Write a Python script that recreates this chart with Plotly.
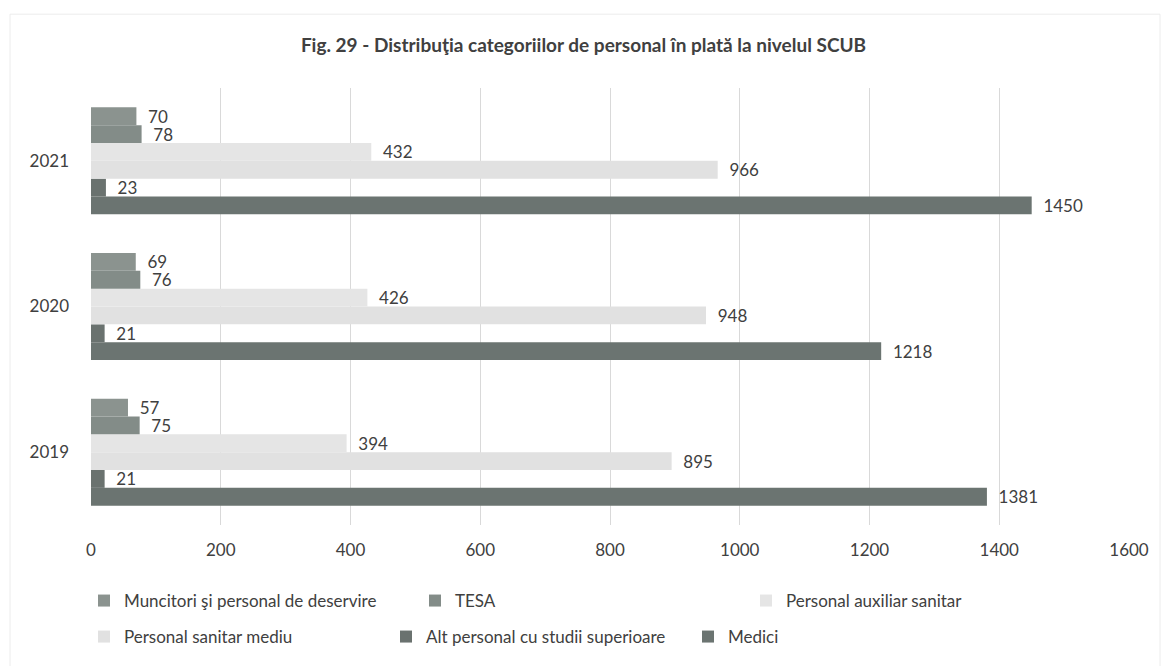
import plotly.graph_objects as go

# Years (categories on the vertical axis, bottom to top)
years = ["2019", "2020", "2021"]

# Staff counts per category, values listed for 2019, 2020, 2021
muncitori = [57, 69, 70]
tesa = [75, 76, 78]
auxiliar = [394, 426, 432]
sanitar_mediu = [895, 948, 966]
alt_personal = [21, 21, 23]
medici = [1381, 1218, 1450]

series_names = [
    "Muncitori şi personal de deservire",
    "TESA",
    "Personal auxiliar sanitar",
    "Personal sanitar mediu",
    "Alt personal cu studii superioare",
    "Medici",
]
series_values = [muncitori, tesa, auxiliar, sanitar_mediu, alt_personal, medici]
series_colors = ["#8b938f", "#838c88", "#e5e5e5", "#e1e1e1", "#6a726f", "#6b7471"]
legend_ids = ["legend", "legend", "legend", "legend2", "legend2", "legend2"]

FONT = "Lato, 'Open Sans', sans-serif"
TEXT_COLOR = "#404040"

W, H = 1167, 666
ML, MR, MT, MB = 91, 38, 88, 140
PW, PH = W - ML - MR, H - MT - MB


def px_to_paper_x(px):
    return (px - ML) / PW


def px_to_paper_y(py):
    return (H - MB - py) / PH


fig = go.Figure()

# Plotly stacks grouped horizontal bars bottom-up, so add the last series first
for name, vals, color, lg in reversed(list(zip(series_names, series_values, series_colors, legend_ids))):
    fig.add_trace(
        go.Bar(
            y=years,
            x=vals,
            name=name,
            orientation="h",
            marker=dict(color=color, line=dict(width=0)),
            text=vals,
            texttemplate="\u00a0\u00a0%{x}",
            textposition="outside",
            constraintext="none",
            cliponaxis=False,
            textfont=dict(family=FONT, size=17, color=TEXT_COLOR),
            legend=lg,
            hoverinfo="x+name",
        )
    )

legend_common = dict(
    orientation="h",
    xanchor="left",
    yanchor="middle",
    font=dict(family=FONT, size=17, color=TEXT_COLOR),
    traceorder="reversed",
    entrywidthmode="pixels",
    bgcolor="rgba(0,0,0,0)",
)

fig.update_layout(
    width=W,
    height=H,
    margin=dict(l=ML, r=MR, t=MT, b=MB),
    paper_bgcolor="white",
    plot_bgcolor="white",
    barmode="group",
    bargap=0.265,
    bargroupgap=0,
    title=dict(
        text="<b>Fig. 29 - Distribuţia categoriilor de personal în plată la nivelul SCUB</b>",
        x=0.5,
        xref="container",
        xanchor="center",
        y=1 - 45 / H,
        yref="container",
        yanchor="middle",
        font=dict(family=FONT, size=19, color=TEXT_COLOR),
    ),
    xaxis=dict(
        range=[0, 1600],
        dtick=200,
        tick0=0,
        showgrid=True,
        gridcolor="#d9d9d9",
        gridwidth=1,
        zeroline=False,
        showline=False,
        ticks="",
        ticklabelstandoff=13,
        tickfont=dict(family=FONT, size=17, color=TEXT_COLOR),
    ),
    yaxis=dict(
        type="category",
        categoryorder="array",
        categoryarray=years,
        showgrid=False,
        zeroline=False,
        showline=False,
        ticks="",
        ticklabelstandoff=21,
        tickfont=dict(family=FONT, size=17, color=TEXT_COLOR),
    ),
    legend=dict(legend_common, x=px_to_paper_x(84), y=px_to_paper_y(601), entrywidth=286),
    legend2=dict(legend_common, x=px_to_paper_x(84), y=px_to_paper_y(637), entrywidth=257),
    showlegend=True,
    shapes=[
        dict(
            type="rect",
            xref="paper",
            yref="paper",
            x0=px_to_paper_x(10),
            x1=px_to_paper_x(1160),
            y0=px_to_paper_y(700),
            y1=px_to_paper_y(14),
            line=dict(color="#ececec", width=1),
            fillcolor="rgba(0,0,0,0)",
            layer="below",
        )
    ],
)

fig.write_html("out.html")
